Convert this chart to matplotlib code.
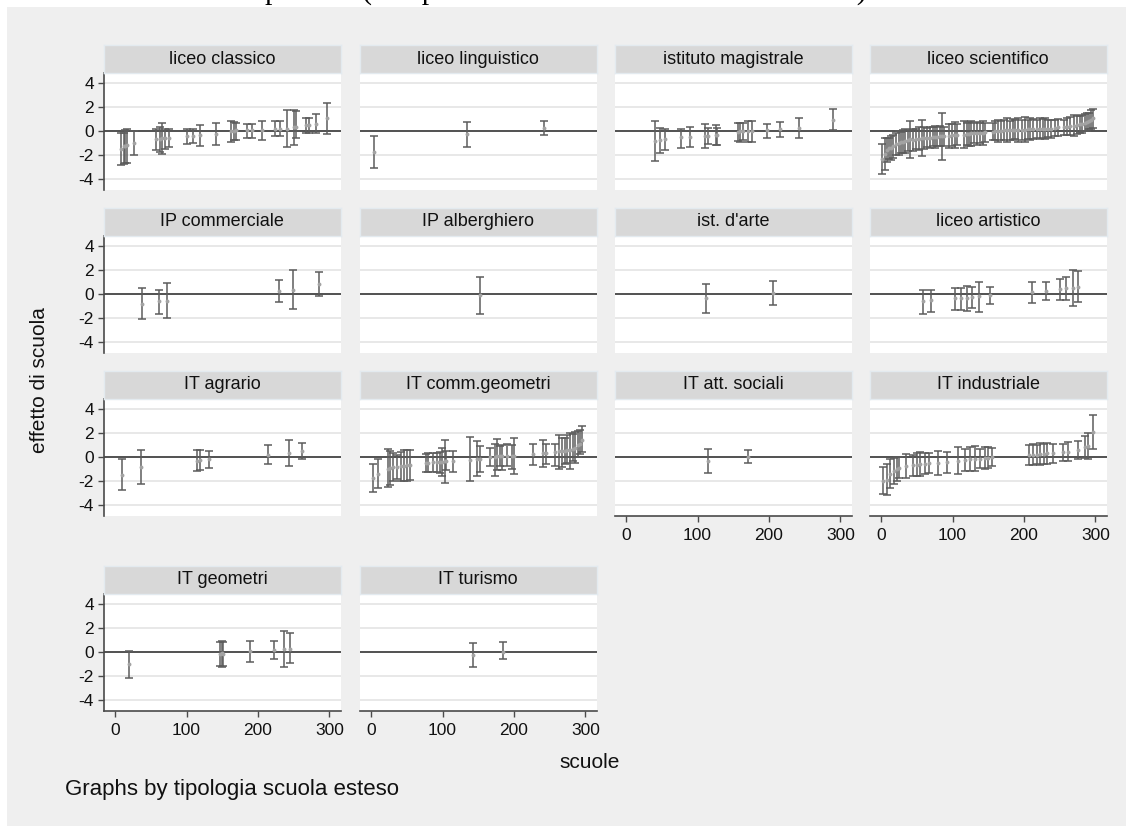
import numpy as np
import matplotlib.pyplot as plt
from matplotlib.patches import Rectangle

plt.rcParams['font.family'] = ['Liberation Sans', 'DejaVu Sans']
plt.rcParams['axes.unicode_minus'] = False

# effetto stimato per scuola con intervallo di confidenza, per tipologia
classico_x = [8, 12, 14, 16, 26, 57, 63, 66, 70, 76, 100, 109, 119, 141, 162, 166, 169, 185, 191, 205, 224, 231, 240, 250, 253, 267, 271, 281, 296]
classico_est = [-1.5, -1.3, -1.25, -1.2, -1.0, -0.65, -0.65, -0.6, -0.57, -0.57, -0.42, -0.42, -0.37, -0.25, -0.03, 0.0, 0.05, 0.1, 0.05, 0.1, 0.14, 0.2, 0.2, 0.3, 0.34, 0.48, 0.48, 0.62, 1.1]
classico_lo = [-2.9, -2.75, -2.7, -2.7, -2.05, -1.57, -1.77, -1.97, -1.5, -1.35, -1.07, -1.0, -1.3, -1.2, -0.93, -0.8, -0.75, -0.56, -0.58, -0.73, -0.42, -0.42, -1.35, -1.2, -0.56, -0.14, -0.14, -0.14, -0.22]
classico_hi = [-0.14, -0.14, 0.1, 0.15, 0.0, 0.2, 0.34, 0.67, 0.2, 0.2, 0.17, 0.17, 0.53, 0.67, 0.8, 0.76, 0.7, 0.56, 0.56, 0.84, 0.8, 0.8, 1.8, 1.74, 1.68, 1.1, 1.1, 1.4, 2.39]

linguistico_x = [4, 134, 242]
linguistico_est = [-1.77, -0.22, 0.25]
linguistico_lo = [-3.1, -1.38, -0.34]
linguistico_hi = [-0.45, 0.79, 0.84]

magistrale_x = [41, 48, 54, 77, 90, 110, 114, 126, 127, 157, 160, 163, 171, 176, 197, 215, 242, 289]
magistrale_est = [-0.84, -0.76, -0.7, -0.53, -0.5, -0.4, -0.45, -0.3, -0.35, -0.08, 0.0, 0.0, 0.0, 0.0, 0.06, 0.14, 0.25, 0.9]
magistrale_lo = [-2.53, -1.85, -1.57, -1.4, -1.35, -1.43, -1.07, -1.2, -1.15, -0.87, -0.92, -0.8, -0.95, -0.93, -0.56, -0.5, -0.59, 0.06]
magistrale_hi = [0.84, 0.28, 0.14, 0.14, 0.31, 0.59, 0.25, 0.5, 0.28, 0.65, 0.65, 0.7, 0.8, 0.8, 0.62, 0.73, 1.1, 1.82]

scientifico_x = [1, 5, 8, 11, 14, 17, 21, 25, 28, 31, 34, 37, 40, 44, 49, 53, 57, 60, 64, 69,
                 72, 75, 78, 82, 85, 88, 95, 99, 103, 106, 116, 120, 123, 126, 130, 134, 138, 142, 146, 156,
                 160, 164, 168, 172, 176, 180, 184, 188, 192, 197, 201, 205, 209, 213, 218, 222, 226, 230, 234, 238,
                 243, 248, 256, 260, 264, 270, 274, 278, 281, 285, 288, 291, 294, 297]
scientifico_est = [-2.33, -1.9, -1.6, -1.45, -1.4, -1.3, -1.1, -1.0, -0.95, -0.9, -0.85, -0.8, -0.7, -0.75, -0.7, -0.65, -0.6, -0.6, -0.55, -0.55,
                   -0.5, -0.5, -0.5, -0.45, -0.45, -0.45, -0.4, -0.35, -0.35, -0.3, -0.3, -0.25, -0.25, -0.2, -0.2, -0.2, -0.15, -0.15, -0.1, -0.05,
                   0.0, 0.0, 0.0, 0.05, 0.05, 0.05, 0.1, 0.1, 0.1, 0.1, 0.1, 0.15, 0.15, 0.15, 0.15, 0.2, 0.2, 0.2, 0.2, 0.2,
                   0.25, 0.3, 0.3, 0.35, 0.4, 0.45, 0.5, 0.55, 0.6, 0.7, 0.75, 0.85, 0.95, 1.05]
scientifico_lo = [-3.58, -3.25, -2.6, -2.35, -2.4, -2.25, -2.0, -2.0, -1.85, -1.85, -1.85, -1.7, -2.25, -1.65, -1.55, -1.6, -2.1, -1.5, -1.35, -1.4,
                  -1.3, -1.45, -1.3, -1.3, -2.45, -1.25, -1.4, -1.25, -1.45, -1.15, -1.4, -1.15, -1.25, -1.25, -1.05, -1.15, -1.0, -1.15, -0.9, -0.75,
                  -0.8, -0.95, -0.8, -0.8, -0.95, -0.75, -0.8, -0.7, -0.9, -0.75, -0.95, -0.65, -0.75, -0.7, -0.6, -0.7, -0.6, -0.65, -0.5, -0.55,
                  -0.4, -0.4, -0.3, -0.35, -0.35, -0.45, -0.25, -0.15, -0.15, 0.0, 0.0, 0.15, 0.15, 0.25]
scientifico_hi = [-1.08, -0.55, -0.6, -0.55, -0.4, -0.35, -0.2, 0.0, -0.05, 0.05, 0.15, 0.1, 0.85, 0.15, 0.15, 0.3, 0.9, 0.3, 0.25, 0.3,
                  0.3, 0.45, 0.3, 0.4, 1.55, 0.35, 0.6, 0.55, 0.75, 0.55, 0.8, 0.65, 0.75, 0.85, 0.65, 0.75, 0.7, 0.85, 0.7, 0.65,
                  0.8, 0.95, 0.8, 0.9, 1.05, 0.85, 1.0, 0.9, 1.1, 0.95, 1.15, 0.95, 1.05, 1.0, 0.9, 1.1, 1.0, 1.05, 0.9, 0.95,
                  0.9, 1.0, 0.9, 1.05, 1.15, 1.35, 1.25, 1.25, 1.35, 1.4, 1.5, 1.55, 1.75, 1.85]

commerciale_x = [37, 62, 72, 229, 249, 286]
commerciale_est = [-0.83, -0.63, -0.57, 0.23, 0.37, 0.86]
commerciale_lo = [-2.09, -1.66, -2.06, -0.71, -1.29, -0.2]
commerciale_hi = [0.49, 0.37, 0.89, 1.17, 2.03, 1.86]

alberghiero_x = [153]
alberghiero_est = [-0.1]
alberghiero_lo = [-1.65]
alberghiero_hi = [1.45]

arte_x = [112, 205]
arte_est = [-0.35, 0.1]
arte_lo = [-1.6, -0.9]
arte_hi = [0.85, 1.1]

artistico_x = [59, 70, 104, 112, 120, 127, 137, 153, 211, 231, 250, 259, 268, 275]
artistico_est = [-0.63, -0.54, -0.37, -0.37, -0.34, -0.26, -0.2, -0.06, 0.17, 0.29, 0.4, 0.46, 0.49, 0.6]
artistico_lo = [-1.69, -1.49, -1.34, -1.34, -1.4, -1.2, -1.54, -0.86, -0.77, -0.54, -0.54, -0.49, -1.0, -0.71]
artistico_hi = [0.37, 0.37, 0.54, 0.49, 0.71, 0.6, 1.03, 0.57, 1.03, 1.03, 1.29, 1.46, 2.0, 1.94]

agrario_x = [10, 36, 115, 119, 132, 214, 244, 262]
agrario_est = [-1.5, -0.85, -0.3, -0.25, -0.2, 0.2, 0.3, 0.5]
agrario_lo = [-2.8, -2.3, -1.2, -1.1, -0.9, -0.6, -0.8, -0.2]
agrario_hi = [-0.2, 0.6, 0.55, 0.6, 0.5, 1.0, 1.4, 1.2]

commgeo_x = [3, 9, 24, 27, 30, 36, 42, 46, 50, 54, 77, 80, 87, 92, 97, 99, 103, 105, 115, 139,
             148, 152, 166, 173, 176, 180, 183, 190, 197, 200, 226, 240, 245, 258, 263, 267, 271, 274, 279, 282,
             286, 289, 292, 295]
commgeo_est = [-1.8, -1.4, -0.98, -0.93, -0.87, -0.84, -0.79, -0.73, -0.7, -0.7, -0.53, -0.5, -0.45, -0.45, -0.45, -0.39, -0.37, -0.37, -0.37, -0.22,
               -0.14, -0.14, 0.0, 0.0, 0.06, 0.06, 0.06, 0.06, 0.06, 0.11, 0.23, 0.31, 0.31, 0.45, 0.48, 0.48, 0.53, 0.56, 0.62, 0.67,
               0.76, 1.04, 1.12, 1.46]
commgeo_lo = [-2.98, -2.6, -2.56, -2.36, -2.05, -1.85, -2.05, -2.05, -2.0, -1.95, -1.29, -1.29, -1.26, -1.26, -1.35, -1.57, -2.19, -1.07, -1.29, -2.05,
              -1.63, -1.29, -0.79, -1.63, -1.07, -0.79, -1.12, -0.79, -1.0, -1.4, -0.7, -0.87, -0.59, -0.79, -1.0, -0.84, -0.59, -0.5, -1.0, -0.37,
              -0.5, 0.0, 0.28, 0.39]
commgeo_hi = [-0.56, -0.17, 0.67, 0.53, 0.34, 0.2, 0.45, 0.62, 0.56, 0.62, 0.25, 0.34, 0.34, 0.34, 0.42, 0.76, 1.4, 0.48, 0.53, 1.69,
              1.32, 0.96, 0.76, 1.1, 1.54, 0.9, 1.04, 1.12, 1.04, 1.6, 1.12, 1.4, 1.12, 1.12, 1.88, 1.6, 1.6, 1.88, 2.02, 1.97,
              2.08, 2.16, 2.3, 2.64]

sociali_x = [115, 171]
sociali_est = [-0.35, 0.0]
sociali_lo = [-1.35, -0.5]
sociali_hi = [0.65, 0.6]

industriale_x = [3, 8, 12, 18, 22, 25, 35, 45, 50, 55, 62, 67, 80, 92, 108, 118, 125, 132, 138, 145,
                 150, 155, 207, 213, 218, 223, 228, 232, 240, 255, 262, 275, 285, 290, 297]
industriale_est = [-2.0, -1.9, -1.4, -1.2, -1.0, -0.9, -0.75, -0.7, -0.65, -0.6, -0.55, -0.5, -0.5, -0.45, -0.3, -0.25, -0.2, -0.15, -0.15, -0.1,
                   -0.05, 0.0, 0.15, 0.2, 0.2, 0.25, 0.25, 0.3, 0.3, 0.4, 0.45, 0.6, 0.85, 0.95, 2.1]
industriale_lo = [-3.15, -3.2, -2.6, -2.3, -2.0, -1.8, -1.75, -1.6, -1.6, -1.6, -1.45, -1.35, -1.5, -1.35, -1.4, -1.15, -1.2, -1.2, -0.95, -1.0,
                  -0.9, -0.75, -0.7, -0.7, -0.6, -0.7, -0.55, -0.6, -0.5, -0.3, -0.35, -0.15, -0.05, -0.15, 0.7]
industriale_hi = [-0.85, -0.6, -0.2, -0.1, 0.0, 0.0, 0.25, 0.2, 0.3, 0.4, 0.35, 0.35, 0.5, 0.45, 0.8, 0.65, 0.8, 0.9, 0.65, 0.8,
                  0.8, 0.75, 1.0, 1.1, 1.0, 1.2, 1.05, 1.2, 1.1, 1.1, 1.25, 1.35, 1.75, 2.05, 3.5]

geometri_x = [20, 147, 150, 151, 189, 223, 237, 245]
geometri_est = [-1.04, -0.14, -0.08, -0.14, 0.05, 0.14, 0.22, 0.27]
geometri_lo = [-2.22, -1.18, -1.23, -1.18, -0.88, -0.55, -1.29, -0.96]
geometri_hi = [0.08, 0.82, 0.88, 0.82, 0.96, 0.96, 1.78, 1.59]

turismo_x = [143, 185]
turismo_est = [-0.25, 0.0]
turismo_lo = [-1.25, -0.55]
turismo_hi = [0.75, 0.85]

panels = [
    ('liceo classico', classico_x, classico_est, classico_lo, classico_hi),
    ('liceo linguistico', linguistico_x, linguistico_est, linguistico_lo, linguistico_hi),
    ('istituto magistrale', magistrale_x, magistrale_est, magistrale_lo, magistrale_hi),
    ('liceo scientifico', scientifico_x, scientifico_est, scientifico_lo, scientifico_hi),
    ('IP commerciale', commerciale_x, commerciale_est, commerciale_lo, commerciale_hi),
    ('IP alberghiero', alberghiero_x, alberghiero_est, alberghiero_lo, alberghiero_hi),
    ("ist. d'arte", arte_x, arte_est, arte_lo, arte_hi),
    ('liceo artistico', artistico_x, artistico_est, artistico_lo, artistico_hi),
    ('IT agrario', agrario_x, agrario_est, agrario_lo, agrario_hi),
    ('IT comm.geometri', commgeo_x, commgeo_est, commgeo_lo, commgeo_hi),
    ('IT att. sociali', sociali_x, sociali_est, sociali_lo, sociali_hi),
    ('IT industriale', industriale_x, industriale_est, industriale_lo, industriale_hi),
    ('IT geometri', geometri_x, geometri_est, geometri_lo, geometri_hi),
    ('IT turismo', turismo_x, turismo_est, turismo_lo, turismo_hi),
]

W, H = 1133, 831
fig = plt.figure(figsize=(W / 100, H / 100), dpi=100)
fig.patch.set_facecolor('white')
fig.add_artist(Rectangle((7 / W, 1 - 826 / H), 1119 / W, 819 / H, transform=fig.transFigure,
                         facecolor='#efefef', edgecolor='none', zorder=0))


def box(left, top, width, height):
    # axes placed in pixel units, measured from the top left corner
    return fig.add_axes([left / W, 1 - (top + height) / H, width / W, height / H])


col_left = [104, 360, 615, 870]
row_zero = [131, 294, 457, 652]
bar_col = '#5c5c5c'
dot_col = '#a3a3a3'
axis_col = '#4a4a4a'

for i, (title, x, est, lo, hi) in enumerate(panels):
    r, c = divmod(i, 4)
    top = row_zero[r] - 58
    ax = box(col_left[c], top, 236.5, 117)
    ax.set_facecolor('white')
    ax.set_xlim(-15.5, 315.5)
    ax.set_ylim(-4.96, 4.87)
    for g in [-4, -2, 2, 4]:
        ax.axhline(g, color='#e8e8e8', lw=1.4, zorder=1)
    ax.axhline(0, color='#222222', lw=1.1, zorder=2)

    x = np.array(x)
    est = np.array(est)
    lo = np.array(lo)
    hi = np.array(hi)
    ax.errorbar(x, est, yerr=[est - lo, hi - est], fmt='none', ecolor=bar_col,
                elinewidth=1.1, capsize=2.9, capthick=1.1, zorder=3)
    ax.plot(x, est, 'o', ms=2.8, color=dot_col, mec='none', zorder=4)

    for s in ax.spines.values():
        s.set_visible(False)
    show_x = r == 3 or (r == 2 and c >= 2)
    show_y = c == 0
    ax.set_xticks([0, 100, 200, 300])
    ax.set_yticks([-4, -2, 0, 2, 4])
    ax.tick_params(axis='both', colors=axis_col, labelcolor='#111111', labelsize=12.5,
                   length=4.3, width=1.0)
    if show_x:
        ax.spines['bottom'].set_visible(True)
        ax.spines['bottom'].set_color(axis_col)
        ax.spines['bottom'].set_linewidth(1.2)
        ax.tick_params(axis='x', pad=4)
    else:
        ax.tick_params(axis='x', length=0, labelbottom=False)
    if show_y:
        ax.spines['left'].set_visible(True)
        ax.spines['left'].set_color(axis_col)
        ax.spines['left'].set_linewidth(1.2)
        ax.tick_params(axis='y', pad=3)
    else:
        ax.tick_params(axis='y', length=0, labelleft=False)

    # titolo del pannello
    st = box(col_left[c], top - 28, 236.5, 28)
    st.set_facecolor('#d8d8d8')
    st.set_xticks([])
    st.set_yticks([])
    for s in st.spines.values():
        s.set_color('#e3eaef')
        s.set_linewidth(1.0)
    st.text(0.5, 0.5, title, ha='center', va='center', fontsize=13, color='#111111',
            transform=st.transAxes)

fig.text(566 / W, 1.0, 'profitto (campione scuole con almeno 10 studenti)',
         ha='center', va='baseline', fontsize=21.5, family=['Liberation Serif', 'DejaVu Serif'])
fig.text(40 / W, 1 - 380 / H, 'effetto di scuola', rotation=90, ha='center', va='center',
         fontsize=15, color='#111111')
fig.text(590 / W, 1 - 762 / H, 'scuole', ha='center', va='center', fontsize=15, color='#111111')
fig.text(65 / W, 1 - 790 / H, 'Graphs by tipologia scuola esteso', ha='left', va='center',
         fontsize=16, color='#111111')

fig.savefig('out.png', dpi=100, facecolor=fig.get_facecolor())
